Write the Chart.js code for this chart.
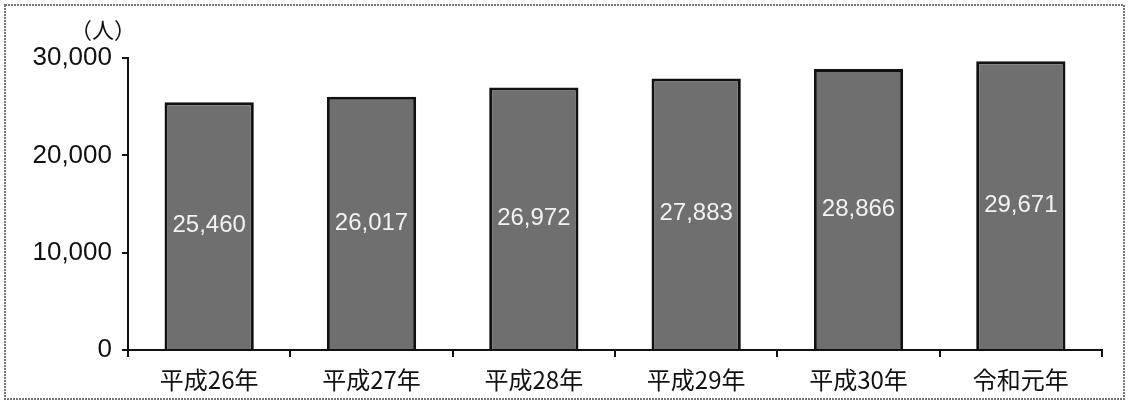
<!DOCTYPE html>
<html>
<head>
<meta charset="utf-8">
<script src="https://cdn.jsdelivr.net/npm/chart.js@4/dist/chart.umd.min.js"></script>
<style>
  html, body { margin: 0; padding: 0; background: #fff; }
</style>
</head>
<body>
<canvas id="chart" width="1130" height="409"></canvas>
<script>
var years  = ['平成26年', '平成27年', '平成28年', '平成29年', '平成30年', '令和元年'];
var people = [25460, 26017, 26972, 27883, 28866, 29671];
var yTicks = [0, 10000, 20000, 30000];

var cjkFont = '"Noto Sans CJK JP", sans-serif';
var numFont = '"Liberation Sans", Arial, sans-serif';

var extras = {
    id: 'extras',
    afterDatasetsDraw: function(chart) {
        var ctx = chart.ctx;
        var meta = chart.getDatasetMeta(0);
        ctx.save();
        ctx.fillStyle = '#f2f2f2';
        ctx.font = '24px ' + numFont;
        ctx.textAlign = 'center';
        ctx.textBaseline = 'middle';
        meta.data.forEach(function(bar, i) {
            ctx.fillText(people[i].toLocaleString('en-US'), bar.x, (bar.y + bar.base) / 2);
        });
        ctx.fillStyle = '#111';
        ctx.font = '22px ' + cjkFont;
        ctx.fillText('（人）', 103, 30);
        ctx.restore();
    },
    afterDraw: function(chart) {
        var ctx = chart.ctx;
        ctx.save();
        ctx.strokeStyle = '#777';
        ctx.lineWidth = 2;
        ctx.setLineDash([2, 1]);
        ctx.strokeRect(5, 5, 1119, 394);
        ctx.restore();
    }
};

new Chart(document.getElementById('chart').getContext('2d'), {
    type: 'bar',
    data: {
        labels: years,
        datasets: [{
            data: people,
            backgroundColor: '#6f6f6f',
            borderColor: '#111',
            borderWidth: 3,
            barPercentage: 0.55,
            categoryPercentage: 1
        }]
    },
    options: {
        responsive: false,
        animation: false,
        layout: { padding: { top: 58, right: 28, left: 0, bottom: 8 } },
        plugins: {
            legend: { display: false },
            tooltip: { enabled: false }
        },
        scales: {
            x: {
                grid: { offset: true, drawOnChartArea: false, tickLength: 7, color: '#111', lineWidth: 2 },
                border: { color: '#111', width: 2 },
                ticks: { color: '#111', font: { size: 24, family: cjkFont }, padding: 8 },
                afterFit: function(s) { s.height = 51; }
            },
            y: {
                min: 0,
                max: 30000,
                afterBuildTicks: function(s) { s.ticks = yTicks.map(function(v) { return { value: v }; }); },
                grid: { drawOnChartArea: false, tickLength: 6, color: '#111', lineWidth: 2 },
                border: { color: '#111', width: 2 },
                ticks: {
                    color: '#111',
                    font: { size: 26, family: numFont },
                    padding: 10,
                    callback: function(v) { return v.toLocaleString('en-US'); }
                },
                afterFit: function(s) { s.width = 128; }
            }
        }
    },
    plugins: [extras]
});
</script>
</body>
</html>
